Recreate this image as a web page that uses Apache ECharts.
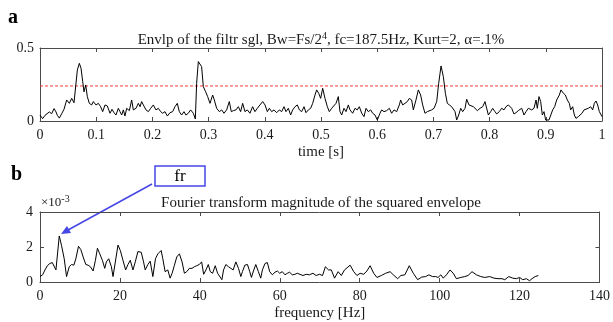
<!DOCTYPE html>
<html>
<head>
<meta charset="utf-8">
<script src="https://cdn.jsdelivr.net/npm/echarts@6/dist/echarts.min.js"></script>
<style>
  html, body { margin: 0; padding: 0; background: #fff; }
  #chart { width: 613px; height: 322px; }
</style>
</head>
<body>
<div id="chart"></div>
<script>
// Envelope of the filtered signal (time in s, amplitude)
const envTime = [
  0, 0.0047, 0.0089, 0.0119, 0.0166, 0.0208, 0.025, 0.0285, 0.0308, 0.0344, 0.0386, 0.0427, 0.0475, 0.0522, 0.0564, 0.0605, 0.0635,
  0.0665, 0.07, 0.073, 0.076, 0.0783, 0.0813, 0.0842, 0.0878, 0.0919, 0.0949, 0.0996, 0.1038, 0.1079, 0.1115, 0.1157, 0.1198,
  0.1246, 0.1281, 0.1317, 0.1352, 0.1394, 0.1423, 0.1453, 0.1483, 0.1512, 0.1542, 0.159, 0.1631, 0.1661, 0.1708, 0.175, 0.178,
  0.1809, 0.1839, 0.1886, 0.1928, 0.197, 0.2016, 0.2064, 0.2105, 0.2147, 0.2183, 0.2224, 0.2266, 0.2313, 0.236, 0.2402, 0.2443,
  0.2479, 0.252, 0.2562, 0.2597, 0.2639, 0.268, 0.2728, 0.2764, 0.2787, 0.2817, 0.2847, 0.2876, 0.2906, 0.2948, 0.2983, 0.3025,
  0.3072, 0.3102, 0.3143, 0.3191, 0.3232, 0.3274, 0.3321, 0.3368, 0.3404, 0.344, 0.3487, 0.3529, 0.357, 0.3606, 0.3647, 0.3689,
  0.3736, 0.3783, 0.3825, 0.3867, 0.3914,
  0.3962, 0.4004, 0.4045, 0.4081, 0.4122, 0.4164, 0.4211, 0.4259, 0.43, 0.4342, 0.4377, 0.4419, 0.446, 0.4496, 0.4538, 0.4579,
  0.4615, 0.4656, 0.4698, 0.4733, 0.4775, 0.4816, 0.4852, 0.4893, 0.4923, 0.4959, 0.4994, 0.503, 0.5071, 0.5113, 0.5148, 0.519,
  0.522, 0.5267, 0.5308, 0.5338, 0.5368, 0.5409, 0.5445, 0.5486, 0.5516, 0.5563, 0.5605, 0.5646, 0.5682, 0.5724, 0.5765, 0.5801,
  0.5842, 0.5884, 0.5919, 0.5961, 0.6002, 0.605, 0.6079, 0.6121, 0.6168, 0.6216, 0.6257, 0.6299, 0.6346, 0.6394, 0.6417, 0.6453,
  0.6494, 0.6536, 0.6571, 0.6613, 0.6643, 0.669, 0.6732, 0.6773, 0.6809, 0.685, 0.6892,
  0.697, 0.7011, 0.7059, 0.7094, 0.7136, 0.7177, 0.7213, 0.7248, 0.7284, 0.7325, 0.7355, 0.7385, 0.7414, 0.745, 0.7486, 0.7521,
  0.7563, 0.7592, 0.7634, 0.7669, 0.7711, 0.7741, 0.7782, 0.783, 0.7877, 0.7918, 0.7948, 0.7978, 0.8019, 0.8055, 0.8096, 0.8126,
  0.8173, 0.8215, 0.8256, 0.8292, 0.8334, 0.8363, 0.8393, 0.8434, 0.847, 0.8511, 0.8541, 0.8571, 0.8612, 0.8648, 0.8689, 0.8719,
  0.8749, 0.879, 0.8826, 0.8849, 0.8879, 0.8909, 0.8938, 0.8968, 0.8998, 0.9027, 0.9057, 0.9087, 0.9122, 0.9158, 0.9193, 0.9241,
  0.927, 0.9312, 0.9348, 0.9383, 0.9419, 0.9442, 0.9478, 0.9508, 0.9537, 0.9579, 0.9609, 0.9644, 0.968, 0.9715, 0.9757, 0.9798,
  0.9834, 0.9864, 0.9893, 0.9923, 0.9953, 1.0
];
const envValue = [
  0.04, 0.016, 0.039, 0.028, 0.062, 0.05, 0.085, 0.062, 0.039, 0.02, 0.05, 0.08, 0.144, 0.121, 0.155, 0.125, 0.13,
  0.35, 0.395, 0.361, 0.27, 0.2, 0.247, 0.167, 0.121, 0.11, 0.133, 0.11, 0.121, 0.098, 0.064, 0.11, 0.103,
  0.053, 0.08, 0.057, 0.041, 0.087, 0.064, 0.041, 0.076, 0.034, 0.087, 0.071, 0.144, 0.076, 0.087, 0.121, 0.098,
  0.133, 0.11, 0.076, 0.064, 0.087, 0.11, 0.076, 0.087, 0.064, 0.053, 0.064, 0.034, 0.057, 0.064, 0.098, 0.121,
  0.064, 0.041, 0.064, 0.041, 0.053, 0.076, 0.053, 0.014, 0.258, 0.407, 0.418, 0.372, 0.235, 0.2, 0.167, 0.121,
  0.178, 0.144, 0.087, 0.064, 0.076, 0.053, 0.076, 0.133, 0.064, 0.071, 0.076, 0.098, 0.064, 0.121, 0.064, 0.076,
  0.053, 0.098, 0.064, 0.087, 0.11,
  0.133, 0.11, 0.064, 0.087, 0.064, 0.076, 0.057, 0.076, 0.064, 0.098, 0.064, 0.087, 0.041, 0.076, 0.098, 0.11,
  0.076, 0.064, 0.098, 0.057, 0.076, 0.087, 0.121, 0.178, 0.213, 0.19, 0.155, 0.224, 0.155, 0.098, 0.064, 0.087,
  0.076, 0.121, 0.167, 0.064, 0.041, 0.087, 0.064, 0.11, 0.076, 0.053, 0.087, 0.076, 0.098, 0.053, 0.03, 0.087,
  0.064, 0.076, 0.053, 0.041, 0.007, 0.053, 0.076, 0.064, 0.071, 0.087, 0.053, 0.076, 0.064, 0.11, 0.144, 0.11,
  0.121, 0.133, 0.155, 0.144, 0.076, 0.144, 0.213, 0.178, 0.11, 0.053, 0.064,
  0.076, 0.087, 0.133, 0.258, 0.377, 0.304, 0.19, 0.121, 0.11, 0.098, 0.103, 0.064, 0.007, 0.041, 0.087, 0.064,
  0.087, 0.149, 0.11, 0.121, 0.098, 0.11, 0.071, 0.087, 0.098, 0.133, 0.121, 0.041, 0.064, 0.087, 0.064, 0.048,
  0.064, 0.087, 0.076, 0.098, 0.11, 0.098, 0.087, 0.048, 0.057, 0.071, 0.064, 0.087, 0.041, 0.064, 0.087, 0.098,
  0.076, 0.087, 0.144, 0.087, 0.167, 0.133, 0.041, 0.064, 0.007, 0.018, 0.007, 0.012, 0.076, 0.098, 0.144, 0.178,
  0.213, 0.19, 0.178, 0.144, 0.121, 0.076, 0.098, 0.041, 0.018, 0.03, 0.018, 0.053, 0.076, 0.087, 0.087, 0.098,
  0.076, 0.121, 0.137, 0.11, 0.064, 0.03
];
const threshold = 0.24;

// Fourier transform magnitude of the squared envelope (Hz, units of 1e-3)
const specFreq = [
  0, 0.66, 1.25, 1.83, 2.49, 3.07, 3.57, 3.99, 4.82, 5.4, 6.06, 6.64, 7.31, 7.89, 8.47, 8.97, 9.63, 10.22, 10.8, 11.46,
  12.04, 12.62, 13.29, 13.87, 14.37, 14.95, 15.61, 16.2, 16.61, 17.19, 17.86, 18.27, 18.6, 19.52, 20.1, 20.76, 21.43, 22.01,
  22.59, 23.26, 23.84, 24.5, 25.33, 25.91, 26.33, 26.99, 27.57, 28.24, 28.9, 29.49, 30.32, 30.73, 31.31, 31.98, 32.56, 33.06,
  33.64, 34.22, 34.88, 35.55, 36.13, 36.71, 37.38, 38.04, 38.62, 39.2, 39.87, 40.45, 40.95, 41.53, 42.11, 42.61, 43.19, 43.85,
  44.44, 44.85, 45.51, 45.93, 46.51, 47.18, 47.76, 48.34, 49.0, 49.67, 50.25, 50.66, 51.25, 51.91, 52.49, 52.91, 53.41, 53.99,
  54.65, 55.23, 55.65, 56.31, 56.89, 57.48, 58.14, 58.8, 59.39, 59.97, 60.63, 61.3, 61.88, 62.46, 63.12, 63.79, 64.37, 65.8,
  66.6, 67.4, 68.3, 69.1, 69.9, 70.7, 71.4, 72.2, 72.9, 73.7, 74.6, 75.4, 76.2, 77.6, 78.5, 79.3, 80.1, 81.0, 81.8, 82.6,
  83.5, 84.3, 85.4, 86.5, 87.6, 88.4, 89.5, 90.3, 91.3, 92.4, 93.4, 94.5, 95.5, 96.5, 97.3, 98.2, 99.0, 99.6, 100.3, 100.9,
  101.7, 102.6, 103.4, 104.2, 105.3, 106.3, 107.1, 108.1, 109.2, 110.3, 111.3, 112.5, 113.6, 114.6, 115.6, 116.3, 117.3,
  118.3, 119.2, 120.0, 120.8, 121.7, 122.5, 123.1, 123.9, 124.7
];
const specMag = [
  0.31, 0.41, 0.69, 0.93, 1.06, 1.11, 1.0, 0.69, 2.63, 2.07, 1.33, 0.31, 0.87, 1.0, 0.96, 1.33, 2.04, 1.85, 1.43, 1.0,
  0.96, 0.87, 0.63, 1.24, 1.93, 1.61, 1.24, 0.78, 1.15, 1.33, 0.87, 0.31, 0.2, 2.11, 1.8, 1.24, 0.69, 1.0,
  1.24, 0.69, 1.15, 1.74, 1.7, 1.15, 0.69, 1.0, 1.19, 0.31, 1.33, 1.61, 1.8, 1.33, 0.59, 0.69, 0.22, 0.5,
  0.96, 1.43, 1.61, 1.15, 0.5, 0.59, 0.78, 0.78, 0.87, 0.93, 1.0, 1.15, 0.44, 0.69, 1.0, 0.59, 0.5, 0.93,
  0.5, 0.59, 0.13, 0.69, 1.0, 0.87, 0.78, 0.69, 1.15, 0.78, 0.31, 0.59, 0.96, 1.0, 0.59, 0.26, 0.63, 1.0,
  0.59, 0.22, 0.69, 1.06, 1.11, 0.59, 0.41, 0.56, 0.63, 0.5, 0.59, 0.41, 0.5, 0.56, 0.41, 0.44, 0.5, 0.37,
  0.44, 0.41, 0.5, 0.37, 0.44, 0.37, 0.87, 0.69, 0.69, 0.22, 0.59, 0.37, 0.69, 0.96, 0.59, 0.37, 0.5, 0.44, 0.63, 0.93,
  0.5, 0.26, 0.37, 0.5, 0.59, 0.41, 0.19, 0.37, 0.41, 0.93, 0.5, 0.13, 0.28, 0.31, 0.41, 0.31, 0.31, 0.26, 0.41, 0.22,
  0.41, 0.69, 0.5, 0.19, 0.26, 0.31, 0.37, 0.59, 0.41, 0.31, 0.26, 0.31, 0.22, 0.19, 0.19, 0.13, 0.31,
  0.22, 0.19, 0.26, 0.13, 0.19, 0.07, 0.19, 0.31, 0.37
];

const pairs = (xs, ys) => xs.map((x, i) => [x, ys[i]]);

const SERIF = "'Liberation Serif', 'Times New Roman', serif";
const AXIS_COLOR = '#4a4a4a';
const LABEL_COLOR = '#1a1a1a';

function boxAxis(extra) {
  return Object.assign({
    type: 'value',
    axisLine: { show: true, onZero: false, lineStyle: { color: AXIS_COLOR, width: 1 } },
    axisTick: { show: true, inside: true, length: 4, lineStyle: { color: AXIS_COLOR, width: 1 } },
    axisLabel: { show: false },
    splitLine: { show: false }
  }, extra);
}
function labelStyle(margin) {
  return { show: true, fontFamily: SERIF, fontSize: 14, color: LABEL_COLOR, margin: margin };
}
const nameStyle = { fontFamily: SERIF, fontSize: 15, color: LABEL_COLOR };

const chart = echarts.init(document.getElementById('chart'), null, { renderer: 'canvas' });

chart.setOption({
  animation: false,
  backgroundColor: '#ffffff',
  grid: [
    { left: 40, right: 11, top: 48, height: 73 },
    { left: 40, right: 11, top: 212, height: 72 }
  ],
  xAxis: [
    boxAxis({ gridIndex: 0, position: 'bottom', min: 0, max: 1, interval: 0.1,
      axisLabel: labelStyle(7), name: 'time [s]', nameLocation: 'middle', nameGap: 24, nameTextStyle: nameStyle }),
    boxAxis({ gridIndex: 0, position: 'top', min: 0, max: 1, interval: 0.1 }),
    boxAxis({ gridIndex: 1, position: 'bottom', min: 0, max: 140, interval: 20,
      axisLabel: labelStyle(7), name: 'frequency [Hz]', nameLocation: 'middle', nameGap: 24, nameTextStyle: nameStyle }),
    boxAxis({ gridIndex: 1, position: 'top', min: 0, max: 140, interval: 20 })
  ],
  yAxis: [
    boxAxis({ gridIndex: 0, position: 'left', min: 0, max: 0.5, interval: 0.5, axisLabel: labelStyle(6) }),
    boxAxis({ gridIndex: 0, position: 'right', min: 0, max: 0.5, interval: 0.5 }),
    boxAxis({ gridIndex: 1, position: 'left', min: 0, max: 4, interval: 2, axisLabel: labelStyle(7) }),
    boxAxis({ gridIndex: 1, position: 'right', min: 0, max: 4, interval: 2 })
  ],
  series: [
    {
      type: 'line', xAxisIndex: 0, yAxisIndex: 0, symbol: 'none',
      lineStyle: { color: '#000', width: 1 },
      data: pairs(envTime, envValue), z: 3
    },
    {
      type: 'line', xAxisIndex: 0, yAxisIndex: 0, symbol: 'none',
      lineStyle: { color: '#ff3b3b', width: 1, type: [3, 2] },
      data: [[0, threshold], [1, threshold]], z: 2
    },
    {
      type: 'line', xAxisIndex: 2, yAxisIndex: 2, symbol: 'none',
      lineStyle: { color: '#000', width: 1 },
      data: pairs(specFreq, specMag), z: 3
    }
  ],
  graphic: [
    { type: 'text', x: 8, y: 18, style: { text: 'a', font: "bold 20px " + SERIF, fill: '#000', verticalAlign: 'middle' } },
    { type: 'text', x: 11, y: 175, style: { text: 'b', font: "bold 20px " + SERIF, fill: '#000', verticalAlign: 'middle' } },
    {
      type: 'text', x: 321, y: 40,
      style: {
        text: 'Envlp of the filtr sgl, Bw=Fs/2{sup|4}, fc=187.5Hz, Kurt=2, α=.1%',
        font: '15px ' + SERIF, fill: LABEL_COLOR, align: 'center', verticalAlign: 'middle',
        rich: {
          sup: { fontSize: 10, fontFamily: SERIF, fill: LABEL_COLOR, verticalAlign: 'top', lineHeight: 18 }
        }
      }
    },
    {
      type: 'text', x: 321, y: 203,
      style: {
        text: 'Fourier transform magnitude of the squared envelope',
        font: '15px ' + SERIF, fill: LABEL_COLOR, align: 'center', verticalAlign: 'middle'
      }
    },
    {
      type: 'text', x: 41, y: 203,
      style: {
        text: '×10{sup|-3}',
        font: '13px ' + SERIF, fill: LABEL_COLOR, verticalAlign: 'middle',
        rich: { sup: { fontSize: 10, fontFamily: SERIF, fill: LABEL_COLOR, verticalAlign: 'top', lineHeight: 17 } }
      }
    },
    // "fr" callout with its arrow
    {
      type: 'rect', shape: { x: 155, y: 166, width: 50, height: 20 },
      style: { fill: '#fff', stroke: '#4646e6', lineWidth: 1.5 }
    },
    { type: 'text', x: 180, y: 177, style: { text: 'fr', font: '17px ' + SERIF, fill: '#000', align: 'center', verticalAlign: 'middle' } },
    {
      type: 'line', shape: { x1: 152, y1: 184, x2: 68, y2: 230 },
      style: { stroke: '#4646e6', lineWidth: 1.5 }
    },
    {
      type: 'polygon', shape: { points: [[61, 234], [71, 233], [67, 226]] },
      style: { fill: '#4646e6' }
    }
  ]
});
</script>
</body>
</html>
